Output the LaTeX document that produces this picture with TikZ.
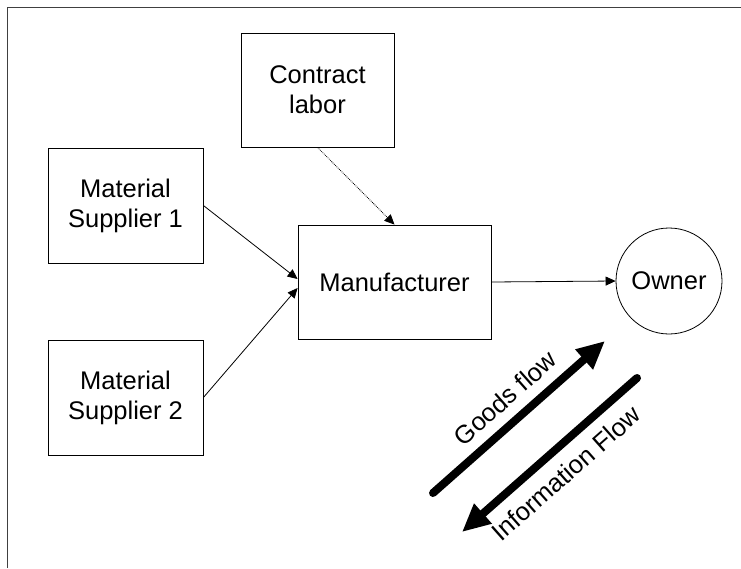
\documentclass[tikz,border=0pt]{standalone}
\usepackage{fontspec}
\setmainfont{Liberation Sans}
\usetikzlibrary{arrows.meta}
\begin{document}
\begin{tikzpicture}[x=1pt,y=-1pt,
  box/.style={draw,line width=0.8pt,rectangle,align=center,inner sep=0pt,
    font=\fontsize{25.5}{30}\selectfont},
  thin/.style={line width=0.8pt,-{Triangle[length=10pt,width=9pt]}},
  fat/.style={line width=8pt,line cap=round,-{Triangle[length=28pt,width=25pt]}},
  lbl/.style={font=\fontsize{25.5}{30}\selectfont,inner sep=0pt,rotate=41.5}]
\useasboundingbox (0,0) rectangle (741,568);
\draw[line width=1pt,black!75] (7,568) -- (7,7) -- (741,7);
\node[box,minimum width=153pt,minimum height=114pt] (contract) at (317.5,90) {Contract\\labor};
\node[box,minimum width=155pt,minimum height=115pt] (sup1) at (125.5,205.5) {Material\\Supplier 1};
\node[box,minimum width=155pt,minimum height=115pt] (sup2) at (125.5,397.5) {Material\\Supplier 2};
\node[box,minimum width=193pt,minimum height=114pt] (manuf) at (394.5,282) {Manufacturer};
\node[box,circle,minimum size=106pt] (owner) at (669,281) {Owner};
\draw[thin] (sup1.east) -- ([yshift=3pt]manuf.west);
\draw[thin] (sup2.east) -- ([yshift=-6pt]manuf.west);
\draw[thin,densely dotted] (contract.south) -- (manuf.north);
\draw[thin] (manuf.east) -- (owner.west);
\coordinate (g1) at (433,493);
\coordinate (g2) at (605,341);
\coordinate (i1) at (637,378);
\coordinate (i2) at (462,532);
\draw[fat] (g1) -- (g2);
\draw[fat] (i1) -- (i2);
\node[lbl] (goodslbl) at (505,398) {Goods flow};
\node[lbl] (infolbl) at (566,473) {Information Flow};
\end{tikzpicture}
\end{document}
